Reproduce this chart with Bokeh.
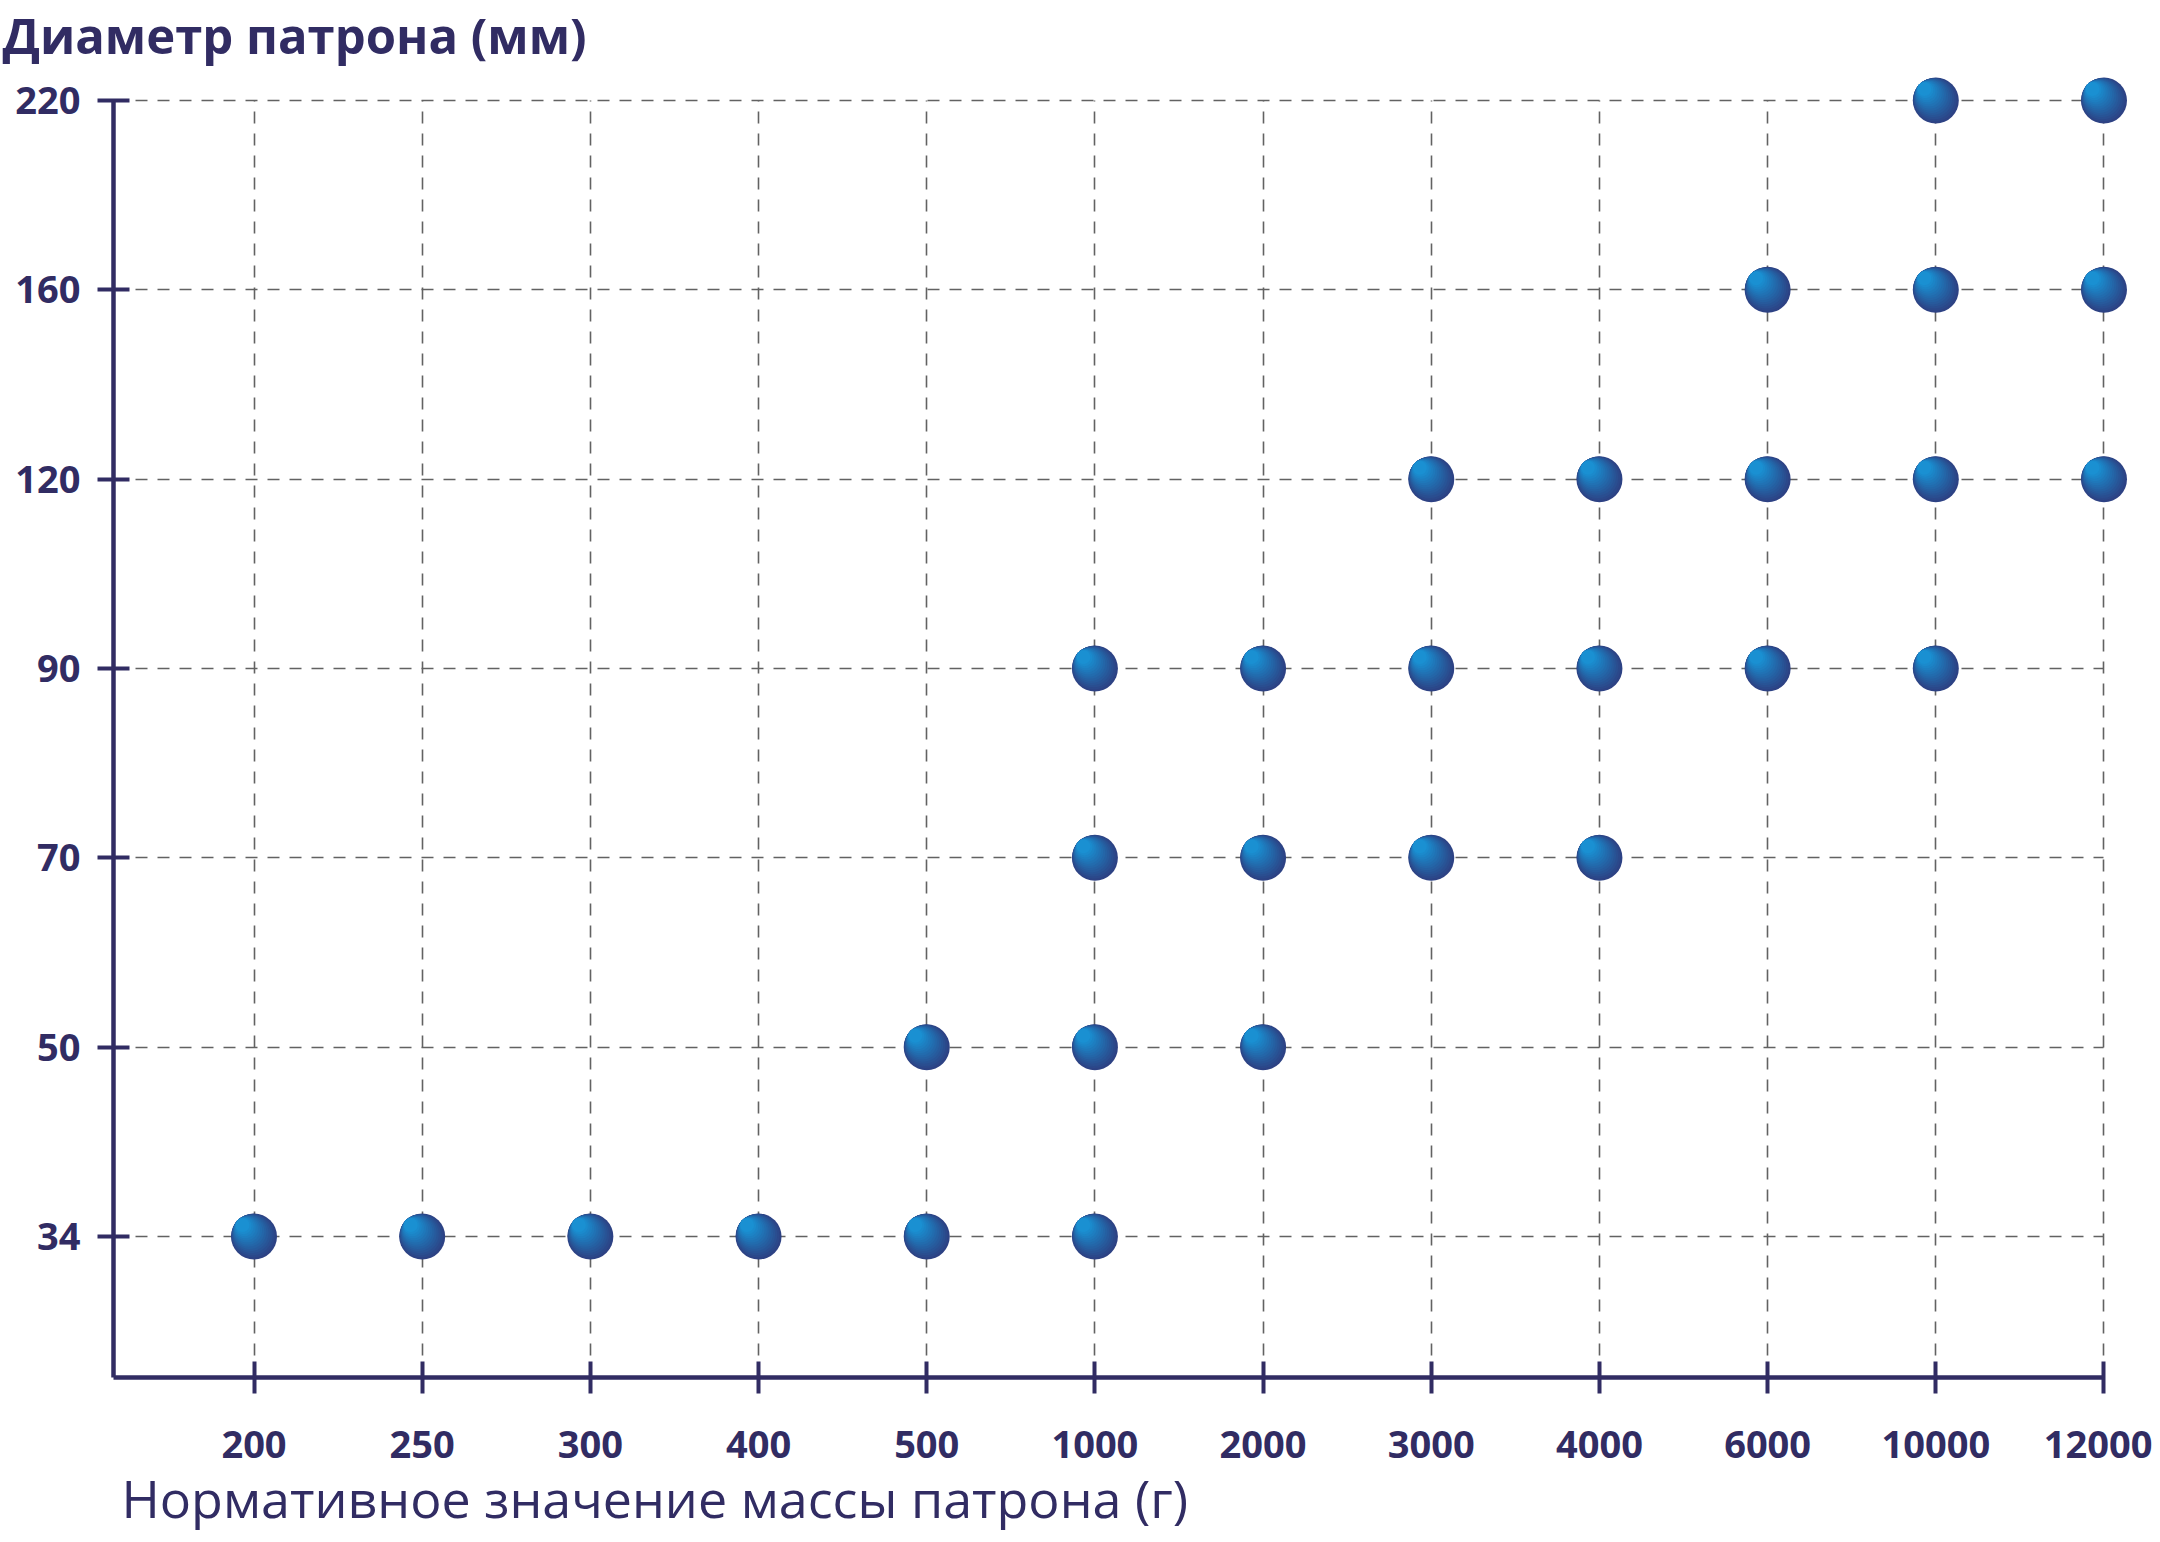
from bokeh.plotting import figure
from bokeh.models import FixedTicker, ColumnDataSource, Label
from bokeh.transform import dodge
from bokeh.embed import file_html
from bokeh.resources import INLINE

# ---- data ----
masses = ["200", "250", "300", "400", "500", "1000", "2000", "3000", "4000", "6000", "10000", "12000"]
diameters = ["34", "50", "70", "90", "120", "160", "220"]
pt_mass = ["200", "250", "300", "400", "500", "1000",
           "500", "1000", "2000",
           "1000", "2000", "3000", "4000",
           "1000", "2000", "3000", "4000", "6000", "10000",
           "3000", "4000", "6000", "10000", "12000",
           "6000", "10000", "12000",
           "10000", "12000"]
pt_diam = ["34"] * 6 + ["50"] * 3 + ["70"] * 4 + ["90"] * 6 + ["120"] * 5 + ["160"] * 3 + ["220"] * 2

y_title = "Диаметр патрона (мм)"
x_title = "Нормативное значение массы патрона (г)"

NAVY = "#312c63"
FONT = "Open Sans"

# ---- layout (pixels) ----
W, H = 2152, 1534
X0_PX, DX_PX = 253.5, 168.18     # pixel position of first category, spacing
Y0_PX, DY_PX = 1236.0, 189.33    # pixel position (from top) of first diameter, spacing
YAXIS_PX, XAXIS_PX = 113.0, 1377.0

def xdata(px):
    return (px - X0_PX) / DX_PX

def ydata(py):
    return (Y0_PX - py) / DY_PX

x_start, x_end = xdata(0), xdata(W)
y_start, y_end = ydata(H), ydata(0)
x_axis_at = ydata(XAXIS_PX)
y_axis_at = xdata(YAXIS_PX)

p = figure(width=W, height=H, output_backend="svg", toolbar_location=None,
           x_range=(x_start, x_end), y_range=(y_start, y_end),
           min_border=0, min_border_left=0, min_border_right=0,
           min_border_top=0, min_border_bottom=0)
p.outline_line_color = None
p.background_fill_color = "white"
p.border_fill_color = "white"

# axes
for ax, labels, bnd, loc in ((p.xaxis[0], masses, (y_axis_at, len(masses) - 1), x_axis_at),
                             (p.yaxis[0], diameters, (x_axis_at, len(diameters) - 1), y_axis_at)):
    ax.fixed_location = loc
    ax.ticker = FixedTicker(ticks=list(range(len(labels))))
    ax.major_label_overrides = {i: l for i, l in enumerate(labels)}
    ax.bounds = bnd
    ax.axis_line_color = NAVY
    ax.axis_line_width = 4.5
    ax.major_tick_line_color = NAVY
    ax.major_tick_line_width = 4
    ax.major_tick_in = 16
    ax.major_tick_out = 16
    ax.minor_tick_line_color = None
    ax.major_label_text_font = FONT
    ax.major_label_text_font_style = "bold"
    ax.major_label_text_font_size = "38px"
    ax.major_label_text_color = NAVY
p.xaxis[0].major_label_standoff = 37
p.yaxis[0].major_label_standoff = 17

# grids
p.xgrid[0].cross_bounds = (x_axis_at, len(diameters) - 1)
p.ygrid[0].cross_bounds = (y_axis_at, len(masses) - 1)
for g in (p.xgrid[0], p.ygrid[0]):
    g.grid_line_color = "#626262"
    g.grid_line_width = 1.6
    g.grid_line_dash = "12 10"

# axis titles
p.add_layout(Label(x=xdata(2), y=ydata(34), text=y_title,
                   text_font=FONT, text_font_style="bold", text_font_size="49px",
                   text_color=NAVY, text_baseline="middle", text_align="left"))
p.add_layout(Label(x=xdata(YAXIS_PX + 8), y=ydata(1497), text=x_title,
                   text_font=FONT, text_font_style="normal", text_font_size="52px",
                   text_color=NAVY, text_baseline="middle", text_align="left"))

# points
src = ColumnDataSource(dict(
    x=[masses.index(m) for m in pt_mass],
    y=[diameters.index(d) for d in pt_diam],
))

# sphere-like shading: stacked circles tangent at the upper-left rim
R = 23.0
dark = (0x2d, 0x42, 0x84)
light = (0x1a, 0x90, 0xd2)
n = 14
for k in range(n):
    f = k / (n - 1)
    r = R * (1 - 0.7 * f)
    d = (R - r) / 2 ** 0.5
    col = "#%02x%02x%02x" % tuple(int(dark[i] + (light[i] - dark[i]) * f) for i in range(3))
    p.scatter(x=dodge("x", -d / DX_PX), y=dodge("y", d / DY_PX), source=src,
              size=2 * r, fill_color=col, line_color=None)

open("out.html", "w").write(file_html(p, INLINE))
